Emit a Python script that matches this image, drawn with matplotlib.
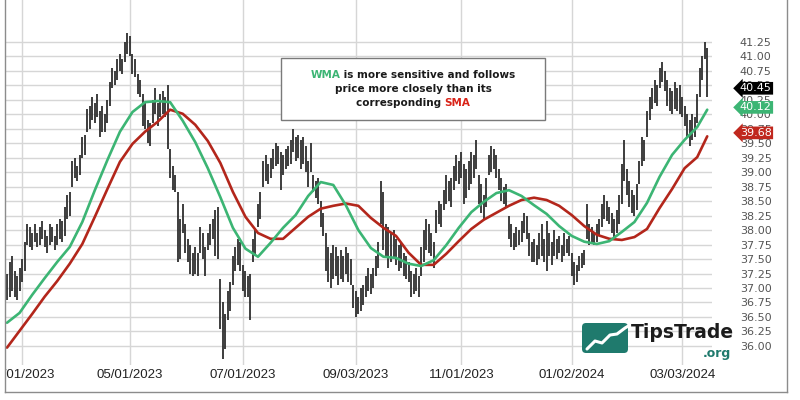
import matplotlib
matplotlib.use("Agg")
import matplotlib.pyplot as plt
import numpy as np
import pandas as pd
from matplotlib.lines import Line2D
from matplotlib.patches import Rectangle, FancyBboxPatch
from matplotlib.offsetbox import TextArea, HPacker, VPacker, AnnotationBbox
from matplotlib.transforms import blended_transform_factory, Bbox, TransformedBbox

# ---------------- data ----------------
start_date = "2023-02-21"
n_bars = 280

highs = [
    37.25, 37.45, 37.55, 37.30, 37.20, 37.35, 37.50, 37.80, 38.10, 38.05,
    37.95, 38.10, 37.95, 38.05, 38.15, 38.00, 37.90, 38.10, 38.05, 37.90,
    38.10, 38.20, 38.15, 38.40, 38.60, 38.65, 39.20, 39.25, 39.10, 39.30,
    39.60, 39.65, 40.10, 40.15, 40.30, 40.20, 40.35, 40.05, 40.15, 40.00,
    40.25, 40.55, 40.80, 40.75, 40.95, 41.05, 40.95, 41.25, 41.40, 41.35,
    41.05, 40.95, 40.70, 40.60, 40.35, 40.20, 39.90, 39.85, 40.25, 40.45,
    40.20, 40.35, 40.40, 40.30, 40.50, 39.40, 39.10, 38.95, 38.65, 38.20,
    38.45, 38.10, 37.85, 37.75, 37.60, 37.70, 37.60, 38.05, 37.95, 37.70,
    37.95, 38.10, 38.20, 38.35, 38.40, 37.15, 36.75, 36.55, 36.95, 37.10,
    37.55, 37.70, 37.85, 37.80, 37.40, 37.30, 37.20, 37.25, 37.85, 38.00,
    38.45, 38.65, 39.20, 39.30, 39.15, 39.25, 39.40, 39.50, 39.45, 39.35,
    39.30, 39.40, 39.45, 39.55, 39.75, 39.60, 39.65, 39.55, 39.60, 39.45,
    39.20, 39.50, 38.95, 38.85, 38.90, 38.50, 38.30, 37.95, 37.70, 37.60,
    37.75, 37.70, 37.55, 37.65, 37.55, 37.70, 37.60, 37.50, 37.05, 36.95,
    36.85, 37.00, 37.05, 37.20, 37.35, 37.25, 37.35, 37.55, 37.80, 38.85,
    38.65, 38.10, 38.05, 37.95, 38.00, 37.85, 37.75, 37.80, 37.60, 37.55,
    37.45, 37.30, 37.25, 37.35, 37.20, 37.70, 38.00, 38.20, 38.10, 37.95,
    37.80, 38.35, 38.50, 38.45, 38.70, 38.95, 38.85, 38.90, 39.10, 39.30,
    39.20, 39.35, 39.15, 39.05, 39.20, 39.35, 39.30, 39.55, 38.95, 38.80,
    38.60, 38.90, 39.30, 39.45, 39.40, 39.30, 39.05, 38.90, 38.75, 38.80,
    38.25, 38.10, 37.95, 38.05, 38.00, 38.15, 38.30, 38.25, 37.95, 37.80,
    37.85, 37.75, 37.95, 38.10, 37.85, 38.15, 37.95, 37.80, 38.00, 37.85,
    37.90, 37.75, 37.95, 37.85, 37.90, 37.60, 37.45, 37.40, 37.55, 37.60,
    37.65, 38.45, 38.10, 38.05, 37.95, 38.10, 38.20, 38.45, 38.60, 38.50,
    38.40, 38.30, 38.20, 38.35, 38.60, 39.15, 39.55, 39.05, 38.85, 38.70,
    38.60, 38.80, 39.20, 39.60, 39.55, 40.05, 40.30, 40.45, 40.60, 40.50,
    40.80, 40.90, 40.75, 40.60, 40.45, 40.40, 40.55, 40.45, 40.50, 40.30,
    40.15, 40.00, 39.90, 40.00, 39.95, 40.35, 40.80, 41.00, 41.25, 41.15,
]

lows = [
    36.80, 36.85, 36.95, 36.85, 36.80, 36.95, 37.10, 37.30, 37.75, 37.70,
    37.65, 37.80, 37.70, 37.75, 37.85, 37.70, 37.60, 37.75, 37.80, 37.65,
    37.75, 37.85, 37.80, 37.90, 38.20, 38.25, 38.75, 38.90, 38.85, 38.95,
    39.25, 39.30, 39.70, 39.75, 39.90, 39.85, 39.95, 39.60, 39.70, 39.70,
    39.85, 40.15, 40.45, 40.50, 40.60, 40.75, 40.70, 40.90, 41.05, 41.00,
    40.70, 40.65, 40.35, 40.30, 39.80, 39.75, 39.50, 39.45, 39.85, 40.00,
    39.80, 39.95, 40.00, 39.95, 39.40, 38.90, 38.70, 38.65, 37.45, 37.50,
    37.95, 37.60, 37.45, 37.25, 37.20, 37.25, 37.20, 37.60, 37.50, 37.20,
    37.65, 37.75, 37.85, 37.55, 37.50, 36.30, 35.78, 35.95, 36.45, 36.60,
    37.05, 37.30, 37.40, 37.30, 36.95, 36.85, 36.85, 36.45, 37.45, 37.55,
    38.05, 38.20, 38.75, 38.85, 38.80, 38.90, 39.05, 39.10, 39.15, 38.70,
    38.95, 39.05, 39.10, 39.15, 39.35, 39.20, 39.25, 39.05, 39.15, 39.00,
    38.75, 39.00, 38.65, 38.55, 38.45, 38.05, 37.90, 37.30, 37.10, 37.00,
    37.15, 37.20, 37.05, 37.15, 37.10, 37.25, 37.10, 37.05, 36.65, 36.50,
    36.55, 36.60, 36.70, 36.85, 36.95, 36.90, 37.00, 37.20, 37.35, 38.10,
    37.65, 37.55, 37.35, 37.45, 37.50, 37.40, 37.30, 37.35, 37.20, 37.15,
    37.10, 36.85, 36.90, 36.95, 36.85, 37.20, 37.45, 37.65, 37.60, 37.55,
    37.35, 37.95, 38.10, 38.05, 38.35, 38.45, 38.50, 38.40, 38.70, 38.85,
    38.80, 38.90, 38.45, 38.55, 38.70, 38.80, 38.90, 39.05, 38.45, 38.30,
    38.20, 38.40, 38.95, 39.00, 39.05, 38.90, 38.70, 38.50, 38.45, 38.40,
    37.85, 37.70, 37.65, 37.70, 37.75, 37.80, 37.95, 37.85, 37.55, 37.45,
    37.45, 37.40, 37.50, 37.55, 37.45, 37.30, 37.55, 37.40, 37.55, 37.50,
    37.60, 37.45, 37.55, 37.60, 37.55, 37.20, 37.05, 37.10, 37.30, 37.35,
    37.40, 37.85, 37.75, 37.80, 37.75, 37.80, 37.90, 38.05, 38.20, 38.15,
    38.10, 37.95, 37.85, 37.95, 38.10, 38.45, 38.85, 38.60, 38.40, 38.30,
    38.25, 38.35, 38.80, 39.10, 39.20, 39.60, 39.90, 40.10, 40.20, 40.15,
    40.45, 40.55, 40.40, 40.15, 40.05, 40.00, 40.10, 40.05, 40.00, 39.95,
    39.80, 39.60, 39.45, 39.55, 39.60, 39.85, 40.30, 40.60, 40.95, 40.30,
]

# moving averages read every 5th bar (plus last bar)
ma_step = 5
wma = [
    36.40, 36.57, 36.88, 37.17, 37.45, 37.71, 38.14, 38.69, 39.21, 39.70,
    40.04, 40.21, 40.23, 40.21, 39.89, 39.52, 39.07, 38.57, 38.04, 37.68,
    37.54, 37.78, 38.04, 38.26, 38.59, 38.83, 38.78, 38.43, 38.00, 37.69,
    37.54, 37.52, 37.42, 37.38, 37.48, 37.74, 38.04, 38.31, 38.49, 38.64,
    38.69, 38.59, 38.43, 38.28, 38.07, 37.90, 37.80, 37.76, 37.81, 37.97,
    38.14, 38.47, 38.92, 39.30, 39.56, 39.78, 40.08,
]
sma = [
    35.97, 36.26, 36.55, 36.85, 37.12, 37.42, 37.76, 38.23, 38.71, 39.18,
    39.49, 39.70, 39.87, 40.08, 40.01, 39.82, 39.54, 39.16, 38.66, 38.23,
    37.95, 37.85, 37.85, 38.04, 38.23, 38.37, 38.42, 38.46, 38.42, 38.21,
    38.04, 37.90, 37.61, 37.40, 37.40, 37.59, 37.81, 38.02, 38.18, 38.30,
    38.42, 38.52, 38.56, 38.52, 38.42, 38.26, 38.07, 37.92, 37.85, 37.83,
    37.88, 38.02, 38.38, 38.71, 39.07, 39.26, 39.62,
]

last_close = 40.45
last_wma = 40.12
last_sma = 39.68

tick_dates = ["03/01/2023", "05/01/2023", "07/01/2023", "09/03/2023",
              "11/01/2023", "01/02/2024", "03/03/2024"]
y_ticks = [36.00, 36.25, 36.50, 36.75, 37.00, 37.25, 37.50, 37.75, 38.00,
           38.25, 38.50, 38.75, 39.00, 39.25, 39.50, 39.75, 40.00, 40.25,
           40.50, 40.75, 41.00, 41.25]

# ---------------- derived ----------------
dates = pd.bdate_range(start_date, periods=n_bars)
x = np.arange(n_bars)
ma_x = list(range(0, n_bars, ma_step)) + [n_bars - 1]
tick_idx = [int(dates.searchsorted(pd.to_datetime(d, format="%m/%d/%Y"))) for d in tick_dates]

GREEN = "#3cb574"
RED = "#b3261b"

fig = plt.figure(figsize=(8, 4), dpi=100)
ax = fig.add_axes([5 / 800, 35 / 400, 707 / 800, 365 / 400])
ax.set_xlim(-0.8, 280.9)
ax.set_ylim(35.67, 41.975)

ax.vlines(x, lows, highs, color="#2e2e2e", lw=1.3, zorder=3)
ax.plot(ma_x, sma, color=RED, lw=1.9, zorder=4, solid_capstyle="round")
ax.plot(ma_x, wma, color=GREEN, lw=1.9, zorder=5, solid_capstyle="round")

ax.set_yticks(y_ticks)
ax.set_yticklabels([f"{v:.2f}" for v in y_ticks])
ax.yaxis.tick_right()
ax.tick_params(axis="y", length=0, pad=20, labelsize=8, labelcolor="#555555")
ax.set_xticks(tick_idx)
ax.set_xticklabels(tick_dates)
ax.tick_params(axis="x", length=0, pad=3, labelsize=9.5, labelcolor="#222222")
clip_bb = TransformedBbox(Bbox([[6 / 800, 0], [1, 1]]), fig.transFigure)
for lbl in ax.get_xticklabels():
    lbl.set_fontfamily("Liberation Sans")
    lbl.set_clip_box(clip_bb)
    lbl.set_clip_on(True)
ax.grid(True, color="#d6d6d6", lw=1.0)
ax.set_axisbelow(True)
for s in ax.spines.values():
    s.set_visible(False)

# outer frame
fc = "#8c8c8c"
fig.add_artist(Line2D([5 / 800, 5 / 800], [0.02, 1.0], color=fc, lw=1))
fig.add_artist(Line2D([5 / 800, 787 / 800], [0.02, 0.02], color=fc, lw=1))
fig.add_artist(Line2D([787 / 800, 787 / 800], [0.02, 1.0], color=fc, lw=1))

# value tags
tr = blended_transform_factory(ax.transAxes, ax.transData)
for val, col in [(last_close, "black"), (last_wma, GREEN), (last_sma, "#c0281e")]:
    ax.text(1.062, val, f"{val:.2f}", transform=tr, ha="center", va="center",
            fontsize=8, color="white", clip_on=False, zorder=10,
            bbox=dict(boxstyle="larrow,pad=0.12", fc=col, ec="none"))

# annotation box
fig.add_artist(Rectangle((281 / 800, 280 / 400), 264 / 800, 62 / 400,
                         transform=fig.transFigure, fc="white", ec="#7a7a7a",
                         lw=1, zorder=10))
tp = dict(fontsize=7.5, fontweight="bold", color="#1a1a1a")
tg = dict(tp, color=GREEN)
trd = dict(tp, color="#d92318")
line1 = HPacker(children=[TextArea("WMA", textprops=tg),
                          TextArea(" is more sensitive and follows", textprops=tp)],
                sep=0, pad=0, align="baseline")
line2 = TextArea("price more closely than its", textprops=tp)
line3 = HPacker(children=[TextArea("corresponding ", textprops=tp),
                          TextArea("SMA", textprops=trd)],
                sep=0, pad=0, align="baseline")
vbox = VPacker(children=[line1, line2, line3], align="center", sep=3, pad=0)
ab = AnnotationBbox(vbox, (413 / 800, 311 / 400), xycoords="figure fraction",
                    frameon=False, zorder=11)
fig.add_artist(ab)

# logo
lax = fig.add_axes([582 / 800, 47 / 400, 46 / 800, 30 / 400], zorder=12)
lax.set_xlim(0, 46)
lax.set_ylim(0, 30)
lax.axis("off")
lax.add_patch(FancyBboxPatch((0, 0), 46, 30, boxstyle="round,pad=0,rounding_size=4",
                             fc="#1f7a6d", ec="none"))
lax.plot([5, 13, 20, 28, 35, 43, 48], [4, 12, 10, 18, 19, 25, 28], color="white",
         lw=2.2, solid_capstyle="round", clip_on=False)
fig.text(631 / 800, 1 - 332 / 400, "TipsTrade", fontsize=13.5, fontweight="bold",
         color="#1c1c1c", ha="left", va="center", zorder=12)
fig.text(731 / 800, 1 - 353 / 400, ".org", fontsize=9, fontweight="bold",
         color="#1f7a6d", ha="right", va="center", zorder=12)

assert len(highs) == n_bars and len(lows) == n_bars
assert len(wma) == len(ma_x) and len(sma) == len(ma_x)

fig.savefig("out.png", dpi=100)
